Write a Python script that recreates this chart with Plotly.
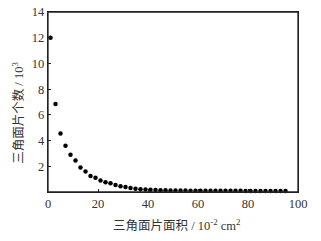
import plotly.graph_objects as go

area = [1, 3, 5, 7, 9, 11, 13, 15, 17, 19, 21, 23, 25, 27, 29, 31, 33, 35, 37, 39,
        41, 43, 45, 47, 49, 51, 53, 55, 57, 59, 61, 63, 65, 67, 69, 71, 73, 75, 77, 79,
        81, 83, 85, 87, 89, 91, 93, 95]
count = [12.0, 6.85, 4.55, 3.6, 2.9, 2.45, 1.9, 1.6, 1.25, 1.1, 0.9, 0.76, 0.68, 0.55,
         0.45, 0.38, 0.31, 0.26, 0.22, 0.19, 0.17, 0.15, 0.14, 0.13, 0.12, 0.12, 0.11,
         0.11, 0.1, 0.1, 0.1, 0.1, 0.1, 0.09, 0.09, 0.09, 0.09, 0.09, 0.09, 0.08, 0.08,
         0.08, 0.08, 0.08, 0.08, 0.08, 0.08, 0.08]
x_ticks = [0, 20, 40, 60, 80, 100]
y_ticks = [2, 4, 6, 8, 10, 12, 14]
x_title = "三角面片面积 / 10<sup>-2</sup> cm<sup>2</sup>"
y_title = "三角面片个数 / 10<sup>3</sup>"

font_family = "Liberation Serif, Noto Sans CJK SC, serif"

fig = go.Figure()
fig.add_trace(go.Scatter(
    x=area, y=count, mode="markers",
    marker=dict(color="black", size=4.5),
    showlegend=False, cliponaxis=False,
))

axis_common = dict(
    showline=True, linecolor="#222", linewidth=1.3, mirror=True,
    ticks="inside", ticklen=3, tickcolor="#222",
    showgrid=False, zeroline=False, automargin=False,
    tickfont=dict(family=font_family, size=12.5, color="#333"),
)
fig.update_xaxes(range=[0, 100], tickvals=x_ticks, **axis_common)
fig.update_yaxes(range=[0, 14], tickvals=y_ticks, **axis_common)

fig.update_layout(
    template="none",
    width=321, height=241,
    margin=dict(l=48, r=23, t=12, b=49),
    paper_bgcolor="white", plot_bgcolor="white",
    font=dict(family=font_family, color="#333"),
    shapes=[dict(type="rect", xref="paper", yref="paper", x0=0, x1=1, y0=0, y1=1,
                 line=dict(color="#222", width=1.3), layer="above")],
    annotations=[
        dict(text=x_title, xref="paper", yref="paper", x=0.512, y=-0.185,
             showarrow=False, xanchor="center", yanchor="middle",
             font=dict(family=font_family, size=12.5, color="#333")),
        dict(text=y_title, xref="paper", yref="paper", x=-0.12, y=0.44,
             showarrow=False, xanchor="center", yanchor="middle", textangle=-90,
             font=dict(family=font_family, size=12.5, color="#333")),
    ],
)

fig.write_html("out.html",
               config={"displayModeBar": False},
               post_script="document.body.style.margin='0';document.body.style.overflow='hidden';")
